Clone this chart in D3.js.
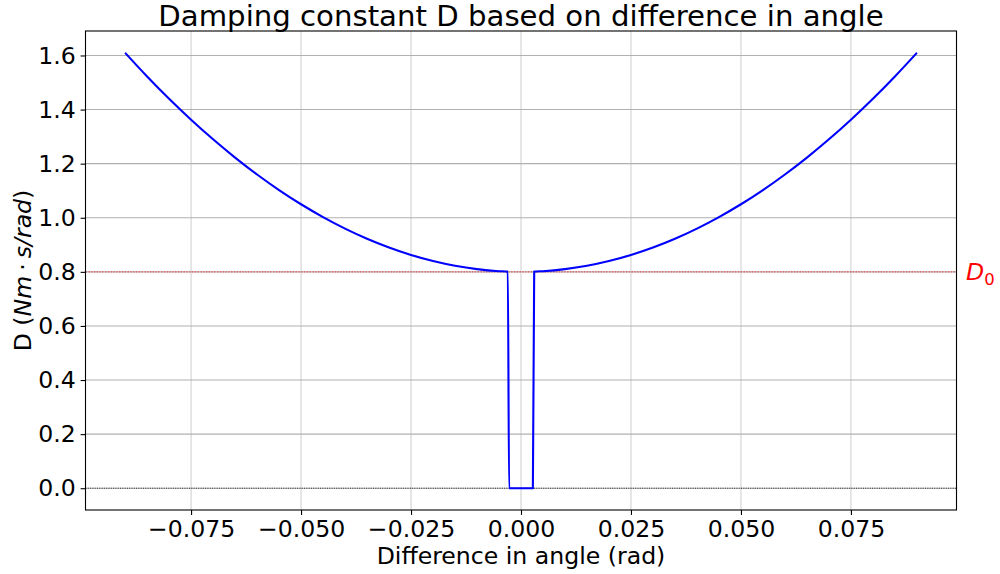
<!DOCTYPE html>
<html>
<head>
<meta charset="utf-8">
<script src="https://cdn.jsdelivr.net/npm/d3@7"></script>
<style>
  html, body { margin: 0; padding: 0; background: #fff; }
  svg { display: block; }
  text { font-family: "DejaVu Sans", sans-serif; fill: #000; }
</style>
</head>
<body>
<svg id="chart" width="1000" height="574"></svg>
<script>
// ---- data ----
const angleLeft = [-0.090, -0.085, -0.080, -0.075, -0.070, -0.065, -0.060, -0.055, -0.050, -0.045,
                   -0.040, -0.035, -0.030, -0.025, -0.020, -0.015, -0.010, -0.005, -0.003, -0.0027];
const dampLeft  = [1.610, 1.5225, 1.440, 1.3625, 1.290, 1.2225, 1.160, 1.1025, 1.050, 1.0025,
                   0.960, 0.9225, 0.890, 0.8625, 0.840, 0.8225, 0.810, 0.8025, 0.8009, 0.0];
const angleRight = [0.0027, 0.003, 0.005, 0.010, 0.015, 0.020, 0.025, 0.030, 0.035, 0.040,
                    0.045, 0.050, 0.055, 0.060, 0.065, 0.070, 0.075, 0.080, 0.085, 0.090];
const dampRight  = [0.0, 0.8009, 0.8025, 0.810, 0.8225, 0.840, 0.8625, 0.890, 0.9225, 0.960,
                    1.0025, 1.050, 1.1025, 1.160, 1.2225, 1.290, 1.3625, 1.440, 1.5225, 1.610];
const D0 = 0.8;
const xTicks = [-0.075, -0.050, -0.025, 0.000, 0.025, 0.050, 0.075];
const yTicks = [0.0, 0.2, 0.4, 0.6, 0.8, 1.0, 1.2, 1.4, 1.6];
const titleText = "Damping constant D based on difference in angle";
const xLabelText = "Difference in angle (rad)";

// ---- layout ----
const svg = d3.select("#chart");
const L = 85.5, R = 956.5, T = 31, B = 510;
const x = d3.scaleLinear().domain([-0.099, 0.099]).range([L, R]);
const y = d3.scaleLinear().domain([-0.0805, 1.6905]).range([B, T]);

const pts = angleLeft.map((a, i) => [a, dampLeft[i]])
  .concat(angleRight.map((a, i) => [a, dampRight[i]]));

// grid
const g = svg.append("g");
g.selectAll("line.vg").data(xTicks).enter().append("line")
  .attr("x1", d => x(d)).attr("x2", d => x(d)).attr("y1", T).attr("y2", B)
  .attr("stroke", "#d2d2d2").attr("stroke-width", 1.1);
g.selectAll("line.hg").data(yTicks).enter().append("line")
  .attr("y1", d => y(d)).attr("y2", d => y(d)).attr("x1", L).attr("x2", R)
  .attr("stroke", "#b0b0b0").attr("stroke-width", 1.1);

// reference lines
svg.append("line").attr("x1", L).attr("x2", R).attr("y1", y(0)).attr("y2", y(0))
  .attr("stroke", "#000").attr("stroke-width", 0.8).attr("stroke-dasharray", "1,1.3");
svg.append("line").attr("x1", L).attr("x2", R).attr("y1", y(D0)).attr("y2", y(D0))
  .attr("stroke", "#ff0000").attr("stroke-opacity", 0.6).attr("stroke-width", 1.4)
  .attr("stroke-dasharray", "1.4,1.4");

// curve
const line = d3.line().x(d => x(d[0])).y(d => y(d[1])).curve(d3.curveMonotoneX);
svg.append("path").datum(pts).attr("d", line)
  .attr("fill", "none").attr("stroke", "#0000ff").attr("stroke-width", 2.1)
  .attr("stroke-linejoin", "round");

// axes
const fmtX = d => (d < 0 ? "\u2212" : "") + Math.abs(d).toFixed(3);
const xAxis = d3.axisBottom(x).tickValues(xTicks).tickFormat(fmtX).tickSizeOuter(0).tickSize(4.9).tickPadding(4.9);
const yAxis = d3.axisLeft(y).tickValues(yTicks).tickFormat(d => d.toFixed(1)).tickSizeOuter(0).tickSize(4.9).tickPadding(4.9);
const gx = svg.append("g").attr("transform", `translate(0,${B})`).call(xAxis);
const gy = svg.append("g").attr("transform", `translate(${L},0)`).call(yAxis);
[gx, gy].forEach(a => {
  a.select(".domain").remove();
  a.selectAll(".tick line").attr("stroke", "#000").attr("stroke-width", 1.1);
  a.selectAll(".tick text").attr("font-family", "DejaVu Sans").attr("font-size", 23.6).attr("fill", "#000");
});
gx.selectAll(".tick text").attr("dy", "0.74em");

// frame
svg.append("rect").attr("x", L).attr("y", T).attr("width", R - L).attr("height", B - T)
  .attr("fill", "none").attr("stroke", "#000").attr("stroke-width", 1.1);

// title & labels
svg.append("text").attr("x", (L + R) / 2).attr("y", 26).attr("text-anchor", "middle")
  .attr("font-size", 29.2).text(titleText);
svg.append("text").attr("x", (L + R) / 2).attr("y", 564).attr("text-anchor", "middle")
  .attr("font-size", 23.6).text(xLabelText);

const yl = svg.append("text").attr("transform", `translate(31,${(T + B) / 2}) rotate(-90)`)
  .attr("text-anchor", "middle").attr("font-size", 23.6);
yl.append("tspan").text("D (");
yl.append("tspan").attr("font-style", "italic").text("Nm");
yl.append("tspan").attr("dx", 5).text("\u00b7");
yl.append("tspan").attr("dx", 5).attr("font-style", "italic").text("s/rad");
yl.append("tspan").text(")");

const dl = svg.append("text").attr("x", 966).attr("y", y(D0) + 8.5).attr("font-size", 23.6)
  .style("fill", "#ff0000");
dl.append("tspan").attr("font-style", "italic").text("D");
dl.append("tspan").attr("font-size", 16.5).attr("dy", 5).text("0");
</script>
</body>
</html>
